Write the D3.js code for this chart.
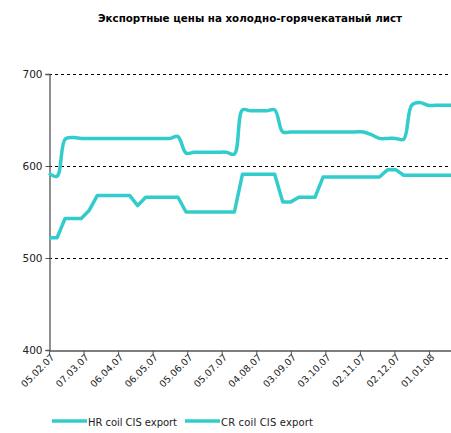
<!DOCTYPE html>
<html>
<head>
<meta charset="utf-8">
<script src="https://cdn.jsdelivr.net/npm/d3@7"></script>
<style>
    body { margin: 0; background: #fff; }
    svg { display: block; font-family: "DejaVu Sans", Verdana, sans-serif; }
</style>
</head>
<body>
<div id="chart"></div>
<script>
// DATA
// ----------------------------------------
const TITLE = "Экспортные цены на холодно-горячекатаный лист";
const FIRST_WEEK = "05.02.07";
const LAST_WEEK = "21.01.08";
const TICK_LABELS = ["05.02.07", "07.03.07", "06.04.07", "06.05.07", "05.06.07", "05.07.07",
    "04.08.07", "03.09.07", "03.10.07", "02.11.07", "02.12.07", "01.01.08"];
const Y_TICKS = [400, 500, 600, 700];

// weekly prices, $/t
const HR_COIL = [522, 522, 543, 543, 543, 552, 568, 568, 568, 568, 568, 557, 566, 566, 566, 566,
    566, 550, 550, 550, 550, 550, 550, 550, 591, 591, 591, 591, 591, 561, 561, 566, 566, 566,
    588, 588, 588, 588, 588, 588, 588, 588, 596, 596, 590, 590, 590, 590, 590, 590, 590];
const CR_COIL = [592, 589, 629, 631, 630, 630, 630, 630, 630, 630, 630, 630, 630, 630, 630, 630,
    632, 614, 615, 615, 615, 615, 615, 613, 661, 660, 660, 660, 661, 637, 637, 637, 637, 637,
    637, 637, 637, 637, 637, 637, 634, 630, 630, 630, 629, 666, 669, 666, 666, 666, 666];
const SERIES_NAMES = ["HR coil CIS export", "CR coil CIS export"];

// STYLE
// ----------------------------------------
const WIDTH = 451;
const HEIGHT = 433;
const LINE_COLOR = "#33cccc";
const MARGIN = { left: 49, right: -1, top: 74, bottom: 83 };

const parseDate = d3.timeParse("%d.%m.%y");

function drawChart() {
    const svg = d3.select("#chart").append("svg")
        .attr("width", WIDTH)
        .attr("height", HEIGHT);

    // one point per week, counted from the first Monday
    const start = parseDate(FIRST_WEEK);
    const weeks = HR_COIL.map((d, i) => d3.timeDay.offset(start, 7 * i));

    const x = d3.scaleTime()
        .domain([start, parseDate(LAST_WEEK)])
        .range([MARGIN.left, WIDTH - MARGIN.right]);

    const y = d3.scaleLinear()
        .domain([400, 700])
        .range([HEIGHT - MARGIN.bottom, MARGIN.top]);

    // Title
    svg.append("text")
        .attr("x", 250)
        .attr("y", 22)
        .attr("text-anchor", "middle")
        .style("font-size", "10.3px")
        .style("font-weight", "bold")
        .text(TITLE);

    // Dashed grid
    svg.append("g")
        .selectAll("line")
        .data(Y_TICKS.filter(d => d > 400))
        .join("line")
        .attr("x1", MARGIN.left)
        .attr("x2", WIDTH)
        .attr("y1", d => Math.round(y(d)) + 0.5)
        .attr("y2", d => Math.round(y(d)) + 0.5)
        .attr("stroke", "#000")
        .attr("stroke-dasharray", "3,3");

    // Y axis
    const yAxis = svg.append("g")
        .attr("transform", `translate(${MARGIN.left + 0.5},0)`)
        .call(d3.axisLeft(y).tickValues(Y_TICKS).tickSize(4).tickPadding(3));
    yAxis.select(".domain").attr("stroke", "#555").attr("stroke-width", 1.3);
    yAxis.selectAll(".tick line").attr("stroke", "#555");
    yAxis.selectAll("text")
        .style("font-size", "10.5px")
        .style("font-family", "DejaVu Sans, sans-serif")
        .attr("fill", "#222");

    // X axis
    const xAxis = svg.append("g")
        .attr("transform", `translate(0,${HEIGHT - MARGIN.bottom + 0.5})`)
        .call(d3.axisBottom(x)
            .tickValues(TICK_LABELS.map(parseDate))
            .tickFormat(d3.timeFormat("%d.%m.%y"))
            .tickSize(4)
            .tickSizeOuter(0));
    xAxis.select(".domain").attr("stroke", "#555").attr("stroke-width", 1.3);
    xAxis.selectAll(".tick line").attr("stroke", "#555");
    xAxis.selectAll("text")
        .attr("text-anchor", "end")
        .attr("transform", "translate(-2,0) rotate(-45)")
        .attr("dy", "0.7em")
        .attr("y", 4)
        .style("font-size", "9.5px")
        .style("font-family", "DejaVu Sans, sans-serif")
        .attr("fill", "#222");

    // Lines
    const straightLine = d3.line()
        .x((d, i) => x(weeks[i]))
        .y(d => y(d));

    const smoothLine = d3.line()
        .x((d, i) => x(weeks[i]))
        .y(d => y(d))
        .curve(d3.curveCatmullRom.alpha(0.5));

    svg.append("path")
        .datum(HR_COIL)
        .attr("fill", "none")
        .attr("stroke", LINE_COLOR)
        .attr("stroke-width", 3.5)
        .attr("stroke-linejoin", "round")
        .attr("d", straightLine);

    svg.append("path")
        .datum(CR_COIL)
        .attr("fill", "none")
        .attr("stroke", LINE_COLOR)
        .attr("stroke-width", 3.5)
        .attr("stroke-linejoin", "round")
        .attr("d", smoothLine);

    // Legend
    const legend = svg.append("g")
        .attr("transform", "translate(52,421)");
    const legendItems = legend.selectAll("g")
        .data(SERIES_NAMES)
        .join("g")
        .attr("transform", (d, i) => `translate(${i * 133},0)`);
    legendItems.append("line")
        .attr("x1", 0)
        .attr("x2", 35)
        .attr("stroke", LINE_COLOR)
        .attr("stroke-width", 3.5);
    legendItems.append("text")
        .attr("x", 36)
        .attr("y", 5)
        .attr("textLength", (d, i) => i === 0 ? 89 : 92)
        .attr("lengthAdjust", "spacing")
        .style("font-size", "10px")
        .attr("fill", "#222")
        .text(d => d);
}

drawChart();
</script>
</body>
</html>
